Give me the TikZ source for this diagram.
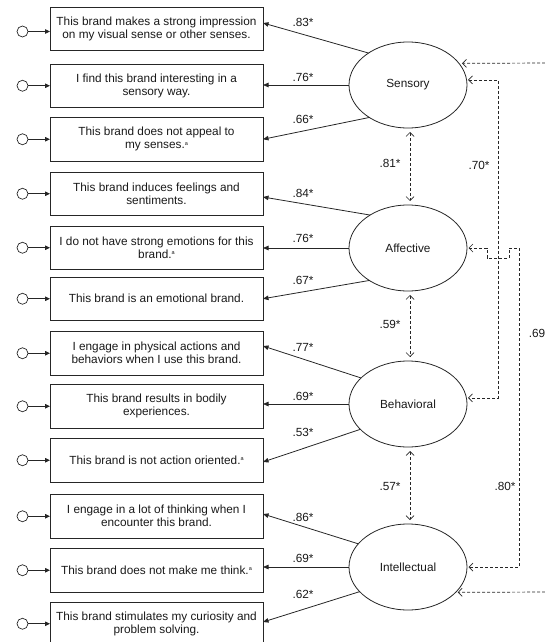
\documentclass[tikz,border=0pt]{standalone}
\usepackage{fontspec}
\setmainfont{Liberation Sans}
\usetikzlibrary{shapes.geometric,arrows.meta}
\newcommand{\supa}{\raisebox{3.8pt}{\fontsize{5.5}{5}\selectfont a}}
\begin{document}
\begin{tikzpicture}[x=1pt,y=-1pt,
  every node/.style={font=\fontsize{11.8}{13}\selectfont, text=black!90},
  item/.style={draw=black!85, line width=0.8pt, minimum width=213pt, minimum height=43.5pt,
    inner sep=0pt, outer sep=0pt, align=center, anchor=north west},
  latent/.style={draw=black!85, line width=0.8pt, ellipse, minimum width=118pt, minimum height=86pt,
    inner sep=0pt, outer sep=0pt},
  err/.style={draw=black!85, line width=0.7pt, circle, minimum size=11pt, inner sep=0pt, outer sep=0pt},
  errarrow/.style={draw=black!85, line width=0.8pt, -{Triangle[length=5pt,width=4.5pt]}},
  load/.style={draw=black!85, line width=0.8pt, -{Triangle[length=5.5pt,width=4.5pt]}},
  corr/.style={draw=black!85, line width=0.7pt, dash pattern=on 3pt off 2pt,
    arrows={{Straight Barb[length=4pt,width=8pt]}-{Straight Barb[length=4pt,width=8pt]}}},
  corrend/.style={draw=black!85, line width=0.7pt, dash pattern=on 3pt off 2pt,
    -{Straight Barb[length=4pt,width=8pt]}},
  lbl/.style={inner sep=0pt}
]
\useasboundingbox (0,0) rectangle (545,642);
\clip (0,0) rectangle (545,642);

% indicator boxes
\node[item] (b1)  at (50,7)     {This brand makes a strong impression\\on my visual sense or other senses.};
\node[item] (b2)  at (50,64)    {I find this brand interesting in a\\sensory way.};
\node[item] (b3)  at (50,117.5) {This brand does not appeal to\\my senses.\supa};
\node[item] (b4)  at (50,172)   {This brand induces feelings and\\sentiments.};
\node[item] (b5)  at (50,226)   {I do not have strong emotions for this\\brand.\supa};
\node[item] (b6)  at (50,277)   {This brand is an emotional brand.};
\node[item] (b7)  at (50,331.5) {I engage in physical actions and\\behaviors when I use this brand.};
\node[item] (b8)  at (50,384.5) {This brand results in bodily\\experiences.};
\node[item] (b9)  at (50,438.5) {This brand is not action oriented.\supa};
\node[item] (b10) at (50,494.5) {I engage in a lot of thinking when I\\encounter this brand.};
\node[item] (b11) at (50,548.5) {This brand does not make me think.\supa};
\node[item] (b12) at (50,602)   {This brand stimulates my curiosity and\\problem solving.};

% error terms
\node[err] (e1) at (22.5,31.5) {};
\foreach \k in {2,...,12}{
  \node[err] (e\k) at (22.5,0 |- b\k.west) {};
}
\draw[errarrow] (e1.east) -- (e1.east -| b1.west);
\foreach \k in {2,...,12}{
  \draw[errarrow] (e\k.east) -- (b\k.west);
}

% latent factors
\node[latent] (s)  at (408,85)  {Sensory};
\node[latent] (a)  at (408,248) {Affective};
\node[latent] (bh) at (408,404) {Behavioral};
\node[latent] (in) at (408,567) {Intellectual};

% loadings
\draw[load] (s.141.3) -- ([yshift=5.75pt]b1.east);
\draw[load] (s.west) -- (s.west -| b2.east);
\draw[load] (s.220.2) -- (b3.east);
\draw[load] (a.139) -- ([yshift=-3.25pt]b4.east);
\draw[load] (a.west) -- (a.west -| b5.east);
\draw[load] (a.220) -- (b6.east);
\draw[load] (bh.151.6) -- ([yshift=7.25pt]b7.east);
\draw[load] (bh.west) -- (bh.west -| b8.east);
\draw[load] (bh.208.4) -- ([yshift=-1.75pt]b9.east);
\draw[load] (in.155.8) -- ([yshift=2.25pt]b10.east);
\draw[load] (in.west) -- (in.west -| b11.east);
\draw[load] (in.207) -- ([yshift=1.75pt]b12.east);

% loading labels
\node[lbl] (l1)  at (303,22)  {.83*};
\node[lbl] (l2)  at (303,77)  {.76*};
\node[lbl] (l3)  at (303,119) {.66*};
\node[lbl] (l4)  at (303,193) {.84*};
\node[lbl] (l5)  at (303,238) {.76*};
\node[lbl] (l6)  at (303,280) {.67*};
\node[lbl] (l7)  at (303,347) {.77*};
\node[lbl] (l8)  at (303,396) {.69*};
\node[lbl] (l9)  at (303,432) {.53*};
\node[lbl] (l10) at (303,517) {.86*};
\node[lbl] (l11) at (303,558) {.69*};
\node[lbl] (l12) at (303,594) {.62*};

% correlations between adjacent factors
\draw[corr, shorten <=4pt, shorten >=4pt] ([xshift=2pt]s.south) -- ([xshift=2pt]a.north);
\draw[corr, shorten <=4pt, shorten >=4pt] ([xshift=2pt]a.south) -- ([xshift=2pt]bh.north);
\draw[corr, shorten <=4pt, shorten >=4pt] ([xshift=2pt]bh.south) -- ([xshift=2pt]in.north);
\node[lbl] (r1) at (390,163) {.81*};
\node[lbl] (r2) at (390,324) {.59*};
\node[lbl] (r3) at (390,486) {.57*};

% long correlations on the right
\coordinate (k70) at (498,0);
\draw[corr, shorten <=1.5pt, shorten >=1.5pt] (s.5) -- (s.5 -| k70) -- (bh.6 -| k70) -- (bh.6);
\node[lbl] (r70) at (479,165) {.70*};

\draw[corr, shorten <=1.5pt, shorten >=1.5pt] (a.east) -- ++(20,0) -- ++(0,10) -- ++(22,0) -- ++(0,-10) -- ++(10,0) |- (in.east);
\node[lbl] (r69) at (537,333) {.69};
\node[lbl] (r80) at (505,486) {.80*};

\coordinate (topR) at (550,63);
\coordinate (botR) at (550,592);
\draw[corrend, shorten >=3pt] (topR) -- (s.23.5);
\draw[corrend, shorten >=2pt] (botR) -- (in.332.5);
\end{tikzpicture}
\end{document}
